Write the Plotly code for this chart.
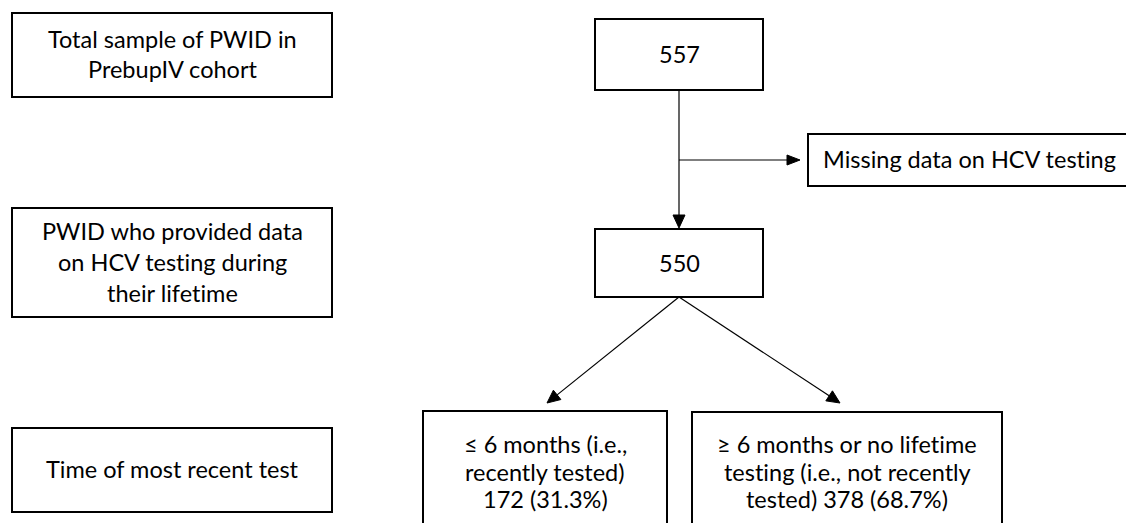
import math
import plotly.graph_objects as go

# ---- data ----
stage_labels = [
    ["Total sample of PWID in", "PrebupIV cohort"],
    ["PWID who provided data", "on HCV testing during", "their lifetime"],
    ["Time of most recent test"],
]
total_n = 557
provided_n = 550
missing_label = "Missing data on HCV testing"
recent_n = 172
recent_pct = 31.3
not_recent_n = 378
not_recent_pct = 68.7

# ---- layout geometry (pixels, reference image coordinates) ----
W, H = 1134, 523
PAGE_MARGIN = 8  # browser default body margin
FONT = "Lato"
FS = 23.5
TEXT_DY = -1

left_boxes = [(12, 13, 332, 97), (12, 208, 332, 317), (12, 428, 332, 512)]
left_spacing = [30, 31, 30]
box_total = (595, 19, 763, 90)
box_provided = (595, 229, 763, 297)
box_missing = (808, 134, 1130, 186)
box_recent = (423, 411, 667, 540)
box_not_recent = (692, 412, 1002, 540)

shapes = []
annotations = []


def add_box(b, lines, spacing=30, yc=None):
    x0, y0, x1, y1 = b
    shapes.append(dict(type="rect", x0=x0, y0=y0, x1=x1, y1=y1,
                       line=dict(color="black", width=2), fillcolor="white",
                       layer="above"))
    if yc is None:
        yc = (y0 + y1) / 2
    n = len(lines)
    for i, s in enumerate(lines):
        y = yc + (i - (n - 1) / 2) * spacing + TEXT_DY
        annotations.append(dict(
            x=(x0 + x1) / 2, y=y,
            text='<span style="font-variant-ligatures:none">{}</span>'.format(s),
            showarrow=False, xref="x", yref="y",
            font=dict(family=FONT, size=FS, color="black"),
            align="center", xanchor="center", yanchor="middle"))


def add_line(p0, p1):
    shapes.append(dict(type="line", x0=p0[0], y0=p0[1], x1=p1[0], y1=p1[1],
                       line=dict(color="black", width=1.2)))


def add_arrow(p0, tip, L=13, hw=6):
    dx, dy = tip[0] - p0[0], tip[1] - p0[1]
    d = math.hypot(dx, dy)
    ux, uy = dx / d, dy / d
    bx, by = tip[0] - ux * L, tip[1] - uy * L
    add_line(p0, (bx, by))
    px, py = -uy, ux
    path = "M {:.2f},{:.2f} L {:.2f},{:.2f} L {:.2f},{:.2f} Z".format(
        tip[0], tip[1], bx + px * hw, by + py * hw, bx - px * hw, by - py * hw)
    shapes.append(dict(type="path", path=path, fillcolor="black",
                       line=dict(color="black", width=1)))


for b, lab, sp in zip(left_boxes, stage_labels, left_spacing):
    add_box(b, lab, sp)

add_box(box_total, [str(total_n)], yc=55)
add_box(box_provided, [str(provided_n)], yc=264)
add_box(box_missing, [missing_label], yc=160)
add_box(box_recent, ["≤ 6 months (i.e.,", "recently tested)",
                     "{} ({}%)".format(recent_n, recent_pct)], spacing=27.5, yc=472.5)
add_box(box_not_recent, ["≥ 6 months or no lifetime", "testing (i.e., not recently",
                         "tested) {} ({}%)".format(not_recent_n, not_recent_pct)],
        spacing=27.5, yc=472.5)

cx = (box_total[0] + box_total[2]) / 2
ymid = (box_missing[1] + box_missing[3]) / 2
# vertical arrow 557 -> 550
add_arrow((cx, box_total[3]), (cx, box_provided[1] - 1))
# side arrow to missing
add_arrow((cx, ymid), (box_missing[0] - 8, ymid), L=13, hw=5)
# diagonal arrows
add_arrow((cx, box_provided[3]), (547, 403))
add_arrow((cx, box_provided[3]), (840, 403))

fig = go.Figure()
fig.update_layout(
    width=W - PAGE_MARGIN, height=H - PAGE_MARGIN,
    margin=dict(l=0, r=0, t=0, b=0),
    paper_bgcolor="white", plot_bgcolor="white",
    xaxis=dict(range=[PAGE_MARGIN, W], visible=False, fixedrange=True),
    yaxis=dict(range=[H, PAGE_MARGIN], visible=False, fixedrange=True),
    shapes=shapes, annotations=annotations, showlegend=False,
)
fig.write_html("out.html")
